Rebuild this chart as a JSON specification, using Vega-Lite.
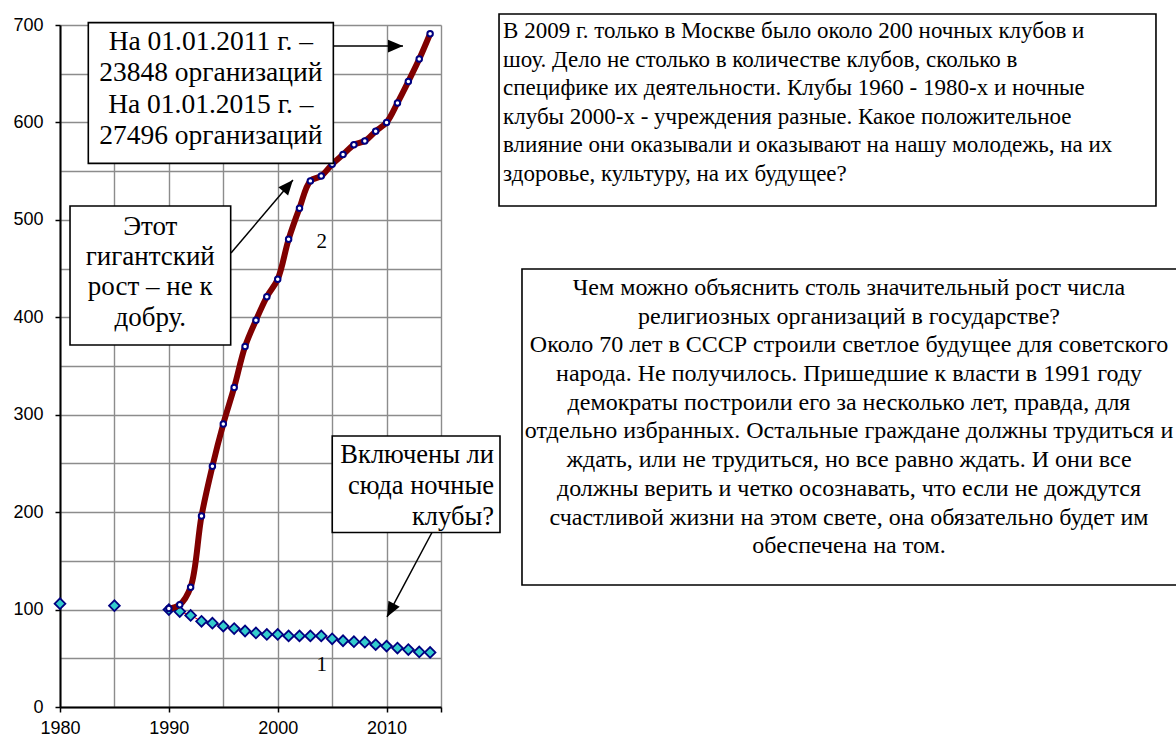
{
  "$schema": "https://vega.github.io/schema/vega-lite/v6.json",
  "width": 381,
  "height": 682,
  "autosize": {"type": "none"},
  "padding": {"left": 60, "top": 25, "right": 735, "bottom": 33},
  "background": "white",
  "config": {
    "view": {"stroke": null},
    "axis": {"grid": true, "gridColor": "#8c8c8c", "gridWidth": 1.4, "domainColor": "black", "domainWidth": 2,
      "tickColor": "black", "tickWidth": 1.5, "tickSize": 5, "labelFont": "Liberation Sans", "labelFontSize": 18,
      "labelColor": "black", "labelOverlap": false, "labelFlush": false, "title": null}
  },
  "datasets": {
    "s1": [
      {"year": 1980, "value": 106}, {"year": 1985, "value": 104}, {"year": 1990, "value": 100},
      {"year": 1991, "value": 98}, {"year": 1992, "value": 94}, {"year": 1993, "value": 88},
      {"year": 1994, "value": 86}, {"year": 1995, "value": 83}, {"year": 1996, "value": 80.5},
      {"year": 1997, "value": 78}, {"year": 1998, "value": 76}, {"year": 1999, "value": 74.5},
      {"year": 2000, "value": 74.5}, {"year": 2001, "value": 73}, {"year": 2002, "value": 73},
      {"year": 2003, "value": 73}, {"year": 2004, "value": 73}, {"year": 2005, "value": 70},
      {"year": 2006, "value": 68}, {"year": 2007, "value": 67}, {"year": 2008, "value": 66.5},
      {"year": 2009, "value": 64}, {"year": 2010, "value": 62.5}, {"year": 2011, "value": 60.5},
      {"year": 2012, "value": 59}, {"year": 2013, "value": 56.5}, {"year": 2014, "value": 56}
    ],
    "s2": [
      {"year": 1990, "value": 101}, {"year": 1991, "value": 105}, {"year": 1992, "value": 123},
      {"year": 1993, "value": 196}, {"year": 1994, "value": 247}, {"year": 1995, "value": 290.5},
      {"year": 1996, "value": 328}, {"year": 1997, "value": 370}, {"year": 1998, "value": 397},
      {"year": 1999, "value": 421}, {"year": 2000, "value": 439}, {"year": 2001, "value": 480},
      {"year": 2002, "value": 512}, {"year": 2003, "value": 540}, {"year": 2004, "value": 545},
      {"year": 2005, "value": 557}, {"year": 2006, "value": 567}, {"year": 2007, "value": 577},
      {"year": 2008, "value": 581}, {"year": 2009, "value": 591}, {"year": 2010, "value": 600},
      {"year": 2011, "value": 620}, {"year": 2012, "value": 642}, {"year": 2013, "value": 665},
      {"year": 2014, "value": 691}
    ],
    "labels": [
      {"year": 2004.04, "value": 477.6, "text": "2"},
      {"year": 2004.04, "value": 43.1, "text": "1"}
    ],
    "boxes": [
      {"id": "b1", "x1": 1982.6, "x2": 2005.11, "y1": 702.4, "y2": 558.0},
      {"id": "b2", "x1": 1980.92, "x2": 1995.68, "y1": 514.2, "y2": 371.6},
      {"id": "b3", "x1": 2005.01, "x2": 2020.42, "y1": 278.2, "y2": 179.1},
      {"id": "b4", "x1": 2020.33, "x2": 2080.68, "y1": 711.3, "y2": 514.2},
      {"id": "b5", "x1": 2022.44, "x2": 2083.5, "y1": 449.6, "y2": 125.2}
    ],
    "arrows": [
      {"x1": 2005.08, "y1": 678.4, "x2": 2011.51, "y2": 678.4},
      {"x1": 1995.71, "y1": 466.0, "x2": 2001.4, "y2": 540.9},
      {"x1": 2014.17, "y1": 179.1, "x2": 2010.04, "y2": 92.4}
    ],
    "notes": [
      {"id": "b1", "x": 1993.85, "y": 682.9, "text": "На 01.01.2011 г. –\n23848 организаций\nНа 01.01.2015 г. –\n27496 организаций"},
      {"id": "b2", "x": 1988.29, "y": 493.0, "text": "Этот\nгигантский\nрост – не к\nдобру."},
      {"id": "b3", "x": 2019.87, "y": 258.6, "text": "Включены ли\nсюда ночные\nклубы?"},
      {"id": "b4", "x": 2020.7, "y": 693.8, "text": "В 2009 г. только в Москве было около 200 ночных клубов и\nшоу.   Дело не столько в количестве клубов, сколько в\nспецифике их деятельности. Клубы 1960 - 1980-х и ночные\nклубы 2000-х  -  учреждения разные. Какое положительное\nвлияние они оказывали и  оказывают на нашу молодежь, на их\nздоровье, культуру, на их будущее?"},
      {"id": "b5", "x": 2052.48, "y": 430.1, "text": "Чем можно объяснить столь значительный рост числа\nрелигиозных организаций в государстве?\nОколо 70 лет в СССР строили светлое будущее для советского\nнарода. Не получилось. Пришедшие к власти в 1991 году\nдемократы построили его за несколько лет, правда, для\nотдельно избранных. Остальные граждане должны трудиться и\nждать, или не трудиться, но все равно ждать. И они все\nдолжны верить и четко осознавать,  что если не дождутся\nсчастливой  жизни на этом свете, она обязательно будет им\nобеспечена на том."}
    ]
  },
  "layer": [
    {
      "data": {"name": "s1"},
      "transform": [{"filter": "datum.year >= 1990"}],
      "mark": {"type": "line", "color": "#FF0000", "strokeWidth": 1},
      "encoding": {
        "x": {"field": "year", "type": "quantitative", "title": null, "scale": {"domain": [1980, 2015], "nice": false, "zero": false},
          "axis": {"title": null, "values": [1980, 1985, 1990, 1995, 2000, 2005, 2010, 2015], "format": "d",
            "tickOpacity": {"condition": {"test": "datum.value % 10 === 0 || datum.value === 2015", "value": 1}, "value": 0},
            "labelExpr": "datum.value % 10 === 0 && datum.value < 2015 ? datum.label : ''", "labelPadding": 7}},
        "y": {"field": "value", "type": "quantitative", "title": null, "scale": {"domain": [0, 700], "nice": false},
          "axis": {"title": null, "values": [0, 50, 100, 150, 200, 250, 300, 350, 400, 450, 500, 550, 600, 650, 700],
            "tickOpacity": {"condition": {"test": "datum.value % 100 === 0", "value": 1}, "value": 0},
            "labelExpr": "datum.value % 100 === 0 ? datum.label : ''", "labelPadding": 12}}
      }
    },
    {
      "data": {"name": "s1"},
      "mark": {"type": "point", "shape": "diamond", "filled": true, "fill": "#33CCCC", "stroke": "#000080", "strokeWidth": 1.8, "size": 115, "opacity": 1},
      "encoding": {
        "x": {"field": "year", "type": "quantitative", "title": null, "scale": {"domain": [1980, 2015], "nice": false, "zero": false},
          "axis": {"title": null, "values": [1980, 1985, 1990, 1995, 2000, 2005, 2010, 2015], "format": "d",
            "tickOpacity": {"condition": {"test": "datum.value % 10 === 0 || datum.value === 2015", "value": 1}, "value": 0},
            "labelExpr": "datum.value % 10 === 0 && datum.value < 2015 ? datum.label : ''", "labelPadding": 7}},
        "y": {"field": "value", "type": "quantitative", "title": null, "scale": {"domain": [0, 700], "nice": false},
          "axis": {"title": null, "values": [0, 50, 100, 150, 200, 250, 300, 350, 400, 450, 500, 550, 600, 650, 700],
            "tickOpacity": {"condition": {"test": "datum.value % 100 === 0", "value": 1}, "value": 0},
            "labelExpr": "datum.value % 100 === 0 ? datum.label : ''", "labelPadding": 12}}
      }
    },
    {
      "data": {"name": "s2"},
      "mark": {"type": "line", "color": "#800000", "strokeWidth": 6, "interpolate": "catmull-rom"},
      "encoding": {
        "x": {"field": "year", "type": "quantitative", "title": null, "scale": {"domain": [1980, 2015], "nice": false, "zero": false},
          "axis": {"title": null, "values": [1980, 1985, 1990, 1995, 2000, 2005, 2010, 2015], "format": "d",
            "tickOpacity": {"condition": {"test": "datum.value % 10 === 0 || datum.value === 2015", "value": 1}, "value": 0},
            "labelExpr": "datum.value % 10 === 0 && datum.value < 2015 ? datum.label : ''", "labelPadding": 7}},
        "y": {"field": "value", "type": "quantitative", "title": null, "scale": {"domain": [0, 700], "nice": false},
          "axis": {"title": null, "values": [0, 50, 100, 150, 200, 250, 300, 350, 400, 450, 500, 550, 600, 650, 700],
            "tickOpacity": {"condition": {"test": "datum.value % 100 === 0", "value": 1}, "value": 0},
            "labelExpr": "datum.value % 100 === 0 ? datum.label : ''", "labelPadding": 12}}
      }
    },
    {
      "data": {"name": "s2"},
      "mark": {"type": "point", "shape": "circle", "filled": true, "fill": "white", "stroke": "#000080", "strokeWidth": 2, "size": 30, "opacity": 1},
      "encoding": {
        "x": {"field": "year", "type": "quantitative", "title": null, "scale": {"domain": [1980, 2015], "nice": false, "zero": false},
          "axis": {"title": null, "values": [1980, 1985, 1990, 1995, 2000, 2005, 2010, 2015], "format": "d",
            "tickOpacity": {"condition": {"test": "datum.value % 10 === 0 || datum.value === 2015", "value": 1}, "value": 0},
            "labelExpr": "datum.value % 10 === 0 && datum.value < 2015 ? datum.label : ''", "labelPadding": 7}},
        "y": {"field": "value", "type": "quantitative", "title": null, "scale": {"domain": [0, 700], "nice": false},
          "axis": {"title": null, "values": [0, 50, 100, 150, 200, 250, 300, 350, 400, 450, 500, 550, 600, 650, 700],
            "tickOpacity": {"condition": {"test": "datum.value % 100 === 0", "value": 1}, "value": 0},
            "labelExpr": "datum.value % 100 === 0 ? datum.label : ''", "labelPadding": 12}}
      }
    },
    {
      "data": {"name": "labels"},
      "mark": {"type": "text", "font": "Liberation Serif", "fontSize": 21, "color": "black", "align": "center", "baseline": "middle"},
      "encoding": {
        "x": {"field": "year", "type": "quantitative", "title": null, "scale": {"domain": [1980, 2015], "nice": false, "zero": false},
          "axis": {"title": null, "values": [1980, 1985, 1990, 1995, 2000, 2005, 2010, 2015], "format": "d",
            "tickOpacity": {"condition": {"test": "datum.value % 10 === 0 || datum.value === 2015", "value": 1}, "value": 0},
            "labelExpr": "datum.value % 10 === 0 && datum.value < 2015 ? datum.label : ''", "labelPadding": 7}},
        "y": {"field": "value", "type": "quantitative", "title": null, "scale": {"domain": [0, 700], "nice": false},
          "axis": {"title": null, "values": [0, 50, 100, 150, 200, 250, 300, 350, 400, 450, 500, 550, 600, 650, 700],
            "tickOpacity": {"condition": {"test": "datum.value % 100 === 0", "value": 1}, "value": 0},
            "labelExpr": "datum.value % 100 === 0 ? datum.label : ''", "labelPadding": 12}},
        "text": {"field": "text"}
      }
    },
    {
      "data": {"name": "boxes"},
      "mark": {"type": "rect", "fill": "white", "stroke": "black", "strokeWidth": 1.6, "clip": false},
      "encoding": {
        "x": {"field": "x1", "type": "quantitative", "title": null, "scale": {"domain": [1980, 2015], "nice": false, "zero": false},
          "axis": {"title": null, "values": [1980, 1985, 1990, 1995, 2000, 2005, 2010, 2015], "format": "d",
            "tickOpacity": {"condition": {"test": "datum.value % 10 === 0 || datum.value === 2015", "value": 1}, "value": 0},
            "labelExpr": "datum.value % 10 === 0 && datum.value < 2015 ? datum.label : ''", "labelPadding": 7}},
        "x2": {"field": "x2"},
        "y": {"field": "y1", "type": "quantitative", "title": null, "scale": {"domain": [0, 700], "nice": false},
          "axis": {"title": null, "values": [0, 50, 100, 150, 200, 250, 300, 350, 400, 450, 500, 550, 600, 650, 700],
            "tickOpacity": {"condition": {"test": "datum.value % 100 === 0", "value": 1}, "value": 0},
            "labelExpr": "datum.value % 100 === 0 ? datum.label : ''", "labelPadding": 12}},
        "y2": {"field": "y2"}
      }
    },
    {
      "data": {"name": "arrows"},
      "mark": {"type": "rule", "color": "black", "strokeWidth": 1.5},
      "encoding": {
        "x": {"field": "x1", "type": "quantitative", "title": null, "scale": {"domain": [1980, 2015], "nice": false, "zero": false},
          "axis": {"title": null, "values": [1980, 1985, 1990, 1995, 2000, 2005, 2010, 2015], "format": "d",
            "tickOpacity": {"condition": {"test": "datum.value % 10 === 0 || datum.value === 2015", "value": 1}, "value": 0},
            "labelExpr": "datum.value % 10 === 0 && datum.value < 2015 ? datum.label : ''", "labelPadding": 7}},
        "x2": {"field": "x2"},
        "y": {"field": "y1", "type": "quantitative", "title": null, "scale": {"domain": [0, 700], "nice": false},
          "axis": {"title": null, "values": [0, 50, 100, 150, 200, 250, 300, 350, 400, 450, 500, 550, 600, 650, 700],
            "tickOpacity": {"condition": {"test": "datum.value % 100 === 0", "value": 1}, "value": 0},
            "labelExpr": "datum.value % 100 === 0 ? datum.label : ''", "labelPadding": 12}},
        "y2": {"field": "y2"}
      }
    },
    {
      "data": {"name": "arrows"},
      "transform": [{"calculate": "atan2(-(datum.y2 - datum.y1) * 682 / 700, (datum.x2 - datum.x1) * 381 / 35) * 180 / PI", "as": "ang"}],
      "mark": {"type": "point", "shape": "M 0 0 L -2 -0.85 L -2 0.85 Z", "filled": true, "color": "black", "size": 225, "opacity": 1},
      "encoding": {
        "x": {"field": "x2", "type": "quantitative", "title": null, "scale": {"domain": [1980, 2015], "nice": false, "zero": false},
          "axis": {"title": null, "values": [1980, 1985, 1990, 1995, 2000, 2005, 2010, 2015], "format": "d",
            "tickOpacity": {"condition": {"test": "datum.value % 10 === 0 || datum.value === 2015", "value": 1}, "value": 0},
            "labelExpr": "datum.value % 10 === 0 && datum.value < 2015 ? datum.label : ''", "labelPadding": 7}},
        "y": {"field": "y2", "type": "quantitative", "title": null, "scale": {"domain": [0, 700], "nice": false},
          "axis": {"title": null, "values": [0, 50, 100, 150, 200, 250, 300, 350, 400, 450, 500, 550, 600, 650, 700],
            "tickOpacity": {"condition": {"test": "datum.value % 100 === 0", "value": 1}, "value": 0},
            "labelExpr": "datum.value % 100 === 0 ? datum.label : ''", "labelPadding": 12}},
        "angle": {"field": "ang", "type": "quantitative", "scale": null}
      }
    },
    {
      "data": {"name": "notes"},
      "transform": [{"filter": "datum.id === 'b1'"}],
      "mark": {"type": "text", "font": "Liberation Serif", "fontSize": 27.5, "lineHeight": 31.6, "lineBreak": "\n", "align": "center", "baseline": "middle", "color": "black"},
      "encoding": {
        "x": {"field": "x", "type": "quantitative", "title": null, "scale": {"domain": [1980, 2015], "nice": false, "zero": false},
          "axis": {"title": null, "values": [1980, 1985, 1990, 1995, 2000, 2005, 2010, 2015], "format": "d",
            "tickOpacity": {"condition": {"test": "datum.value % 10 === 0 || datum.value === 2015", "value": 1}, "value": 0},
            "labelExpr": "datum.value % 10 === 0 && datum.value < 2015 ? datum.label : ''", "labelPadding": 7}},
        "y": {"field": "y", "type": "quantitative", "title": null, "scale": {"domain": [0, 700], "nice": false},
          "axis": {"title": null, "values": [0, 50, 100, 150, 200, 250, 300, 350, 400, 450, 500, 550, 600, 650, 700],
            "tickOpacity": {"condition": {"test": "datum.value % 100 === 0", "value": 1}, "value": 0},
            "labelExpr": "datum.value % 100 === 0 ? datum.label : ''", "labelPadding": 12}},
        "text": {"field": "text"}
      }
    },
    {
      "data": {"name": "notes"},
      "transform": [{"filter": "datum.id === 'b2'"}],
      "mark": {"type": "text", "font": "Liberation Serif", "fontSize": 27, "lineHeight": 30.4, "lineBreak": "\n", "align": "center", "baseline": "middle", "color": "black"},
      "encoding": {
        "x": {"field": "x", "type": "quantitative", "title": null, "scale": {"domain": [1980, 2015], "nice": false, "zero": false},
          "axis": {"title": null, "values": [1980, 1985, 1990, 1995, 2000, 2005, 2010, 2015], "format": "d",
            "tickOpacity": {"condition": {"test": "datum.value % 10 === 0 || datum.value === 2015", "value": 1}, "value": 0},
            "labelExpr": "datum.value % 10 === 0 && datum.value < 2015 ? datum.label : ''", "labelPadding": 7}},
        "y": {"field": "y", "type": "quantitative", "title": null, "scale": {"domain": [0, 700], "nice": false},
          "axis": {"title": null, "values": [0, 50, 100, 150, 200, 250, 300, 350, 400, 450, 500, 550, 600, 650, 700],
            "tickOpacity": {"condition": {"test": "datum.value % 100 === 0", "value": 1}, "value": 0},
            "labelExpr": "datum.value % 100 === 0 ? datum.label : ''", "labelPadding": 12}},
        "text": {"field": "text"}
      }
    },
    {
      "data": {"name": "notes"},
      "transform": [{"filter": "datum.id === 'b3'"}],
      "mark": {"type": "text", "font": "Liberation Serif", "fontSize": 26.5, "lineHeight": 31, "lineBreak": "\n", "align": "right", "baseline": "middle", "color": "black"},
      "encoding": {
        "x": {"field": "x", "type": "quantitative", "title": null, "scale": {"domain": [1980, 2015], "nice": false, "zero": false},
          "axis": {"title": null, "values": [1980, 1985, 1990, 1995, 2000, 2005, 2010, 2015], "format": "d",
            "tickOpacity": {"condition": {"test": "datum.value % 10 === 0 || datum.value === 2015", "value": 1}, "value": 0},
            "labelExpr": "datum.value % 10 === 0 && datum.value < 2015 ? datum.label : ''", "labelPadding": 7}},
        "y": {"field": "y", "type": "quantitative", "title": null, "scale": {"domain": [0, 700], "nice": false},
          "axis": {"title": null, "values": [0, 50, 100, 150, 200, 250, 300, 350, 400, 450, 500, 550, 600, 650, 700],
            "tickOpacity": {"condition": {"test": "datum.value % 100 === 0", "value": 1}, "value": 0},
            "labelExpr": "datum.value % 100 === 0 ? datum.label : ''", "labelPadding": 12}},
        "text": {"field": "text"}
      }
    },
    {
      "data": {"name": "notes"},
      "transform": [{"filter": "datum.id === 'b4'"}],
      "mark": {"type": "text", "font": "Liberation Serif", "fontSize": 23, "lineHeight": 28.5, "lineBreak": "\n", "align": "left", "baseline": "middle", "color": "black"},
      "encoding": {
        "x": {"field": "x", "type": "quantitative", "title": null, "scale": {"domain": [1980, 2015], "nice": false, "zero": false},
          "axis": {"title": null, "values": [1980, 1985, 1990, 1995, 2000, 2005, 2010, 2015], "format": "d",
            "tickOpacity": {"condition": {"test": "datum.value % 10 === 0 || datum.value === 2015", "value": 1}, "value": 0},
            "labelExpr": "datum.value % 10 === 0 && datum.value < 2015 ? datum.label : ''", "labelPadding": 7}},
        "y": {"field": "y", "type": "quantitative", "title": null, "scale": {"domain": [0, 700], "nice": false},
          "axis": {"title": null, "values": [0, 50, 100, 150, 200, 250, 300, 350, 400, 450, 500, 550, 600, 650, 700],
            "tickOpacity": {"condition": {"test": "datum.value % 100 === 0", "value": 1}, "value": 0},
            "labelExpr": "datum.value % 100 === 0 ? datum.label : ''", "labelPadding": 12}},
        "text": {"field": "text"}
      }
    },
    {
      "data": {"name": "notes"},
      "transform": [{"filter": "datum.id === 'b5'"}],
      "mark": {"type": "text", "font": "Liberation Serif", "fontSize": 24, "lineHeight": 28.7, "lineBreak": "\n", "align": "center", "baseline": "middle", "color": "black"},
      "encoding": {
        "x": {"field": "x", "type": "quantitative", "title": null, "scale": {"domain": [1980, 2015], "nice": false, "zero": false},
          "axis": {"title": null, "values": [1980, 1985, 1990, 1995, 2000, 2005, 2010, 2015], "format": "d",
            "tickOpacity": {"condition": {"test": "datum.value % 10 === 0 || datum.value === 2015", "value": 1}, "value": 0},
            "labelExpr": "datum.value % 10 === 0 && datum.value < 2015 ? datum.label : ''", "labelPadding": 7}},
        "y": {"field": "y", "type": "quantitative", "title": null, "scale": {"domain": [0, 700], "nice": false},
          "axis": {"title": null, "values": [0, 50, 100, 150, 200, 250, 300, 350, 400, 450, 500, 550, 600, 650, 700],
            "tickOpacity": {"condition": {"test": "datum.value % 100 === 0", "value": 1}, "value": 0},
            "labelExpr": "datum.value % 100 === 0 ? datum.label : ''", "labelPadding": 12}},
        "text": {"field": "text"}
      }
    }
  ]
}
